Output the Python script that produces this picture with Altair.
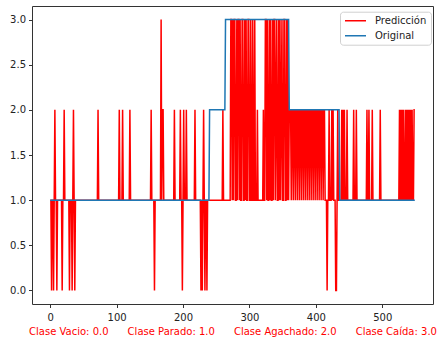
import altair as alt
import pandas as pd

# ---- data ----
n_points = 550
x_ticks = [0, 100, 200, 300, 400, 500]
y_ticks = [0.0, 0.5, 1.0, 1.5, 2.0, 2.5, 3.0]
series_names = ["Predicción", "Original"]
series_colors = ["#ff0000", "#1f77b4"]
class_labels = ["Clase Vacio: 0.0", "Clase Parado: 1.0", "Clase Agachado: 2.0", "Clase Caída: 3.0"]

# Original: index where the class changes, and the new class
orig_change_idx = [0, 240, 264, 360, 436]
orig_change_val = [1, 2, 3, 2, 1]

# Prediction: index where the class changes, and the new class
pred_change_idx = [
    0, 2, 3, 5, 6, 7, 8, 10, 11, 18, 19, 21, 22, 29, 30, 33, 34, 35, 36, 37, 38,
    72, 73, 104, 105, 109, 110, 120, 121, 152, 153, 157, 158, 167, 168, 169, 171,
    187, 188, 196, 197, 199, 200, 201, 202, 205, 206, 218, 219, 227, 228, 229, 230,
    231, 232, 233, 234, 236, 237, 260, 261,
    272, 274, 275, 276, 277, 279, 281, 282, 283, 285, 286, 287, 289, 291, 293, 294,
    295, 296, 298, 300, 302, 303, 305, 306, 308, 309, 312, 313, 321, 322,
    324, 326, 327, 328, 330, 331, 332, 333, 335, 336, 337, 339, 340, 341, 342,
    344, 345, 346, 347, 348, 349, 350, 352, 354, 356, 357, 358, 359,
    360, 363, 364, 366, 367, 369, 370, 372, 373, 375, 376, 378, 379, 381, 382, 384,
    385, 387, 388, 390, 391, 393, 394, 396, 397, 399, 400, 402, 403, 405, 406, 408,
    409, 411, 412, 414, 417, 418, 420, 421, 424, 425, 426, 427, 430, 432, 433, 434,
    439, 440, 441, 442, 443, 444, 447, 448, 457, 458, 461, 462, 477, 478, 480, 481,
    485, 486, 497, 498, 526, 527, 528, 529, 530, 531, 532, 533, 535, 536, 537, 538,
    539, 540, 541, 542, 543, 544, 545, 546, 548,
]
pred_change_val = [
    1, 0, 1, 0, 1, 2, 1, 0, 1, 0, 1, 2, 1, 0, 1, 0, 1, 2, 1, 0, 1,
    2, 1, 2, 1, 2, 1, 2, 1, 2, 1, 0, 1, 3, 1, 2, 1,
    2, 1, 2, 1, 0, 1, 2, 1, 2, 1, 2, 1, 0, 1, 0, 1,
    2, 1, 0, 1, 0, 1, 2, 1,
    3, 1, 3, 1, 3, 1, 3, 1, 3, 1, 3, 1, 3, 1, 3, 1,
    3, 1, 3, 1, 3, 1, 3, 1, 3, 1, 2, 1, 2, 1,
    3, 1, 3, 1, 3, 1, 3, 1, 3, 1, 3, 1, 2, 3, 1,
    3, 1, 3, 1, 2, 3, 1, 3, 1, 3, 1, 3, 1,
    2, 1, 2, 1, 2, 1, 2, 1, 2, 1, 2, 1, 2, 1, 2, 1,
    2, 1, 2, 1, 2, 1, 2, 1, 2, 1, 2, 1, 2, 1, 2, 1,
    2, 1, 2, 1, 0, 1, 2, 1, 2, 1, 2, 1, 0, 1, 2, 1,
    2, 1, 2, 1, 2, 1, 2, 1, 2, 1, 2, 1, 2, 1, 2, 1,
    2, 1, 2, 1, 2, 1, 2, 1, 2, 1, 2, 1, 2, 1, 2, 1,
    2, 1, 2, 1, 2, 1, 2, 1, 2,
]


def expand(change_idx, change_val, n):
    values = []
    for k, start in enumerate(change_idx):
        end = change_idx[k + 1] if k + 1 < len(change_idx) else n
        values.extend([change_val[k]] * (end - start))
    return values


pred_values = expand(pred_change_idx, pred_change_val, n_points)
orig_values = expand(orig_change_idx, orig_change_val, n_points)

pred_df = pd.DataFrame({"x": list(range(n_points)), "y": pred_values, "serie": series_names[0]})
orig_df = pd.DataFrame({"x": list(range(n_points)), "y": orig_values, "serie": series_names[1]})

FONT = "DejaVu Sans"
NB = "\u00a0"
x_title = (NB * 6).join(class_labels)

x_enc = alt.X(
    "x:Q",
    scale=alt.Scale(domain=[-27.45, 576.45], nice=False, zero=False),
    axis=alt.Axis(values=x_ticks, format="d", title=x_title, titleColor="#ff0000",
                  titleFontSize=10, titleFontWeight="normal", titleFont=FONT,
                  titlePadding=4, labelPadding=5),
)
y_enc = alt.Y(
    "y:Q",
    scale=alt.Scale(domain=[-0.15, 3.15], nice=False, zero=False),
    axis=alt.Axis(values=y_ticks, format=".1f", title=None, labelPadding=3),
)
color_enc = alt.Color(
    "serie:N",
    scale=alt.Scale(domain=series_names, range=series_colors),
    legend=alt.Legend(
        title=None, orient="none", legendX=308, legendY=5.7,
        symbolType="stroke", symbolStrokeWidth=1.5, symbolSize=441,
        labelFont=FONT, labelFontSize=10, labelColor="#222", labelOffset=8,
        padding=4, rowPadding=5, clipHeight=10,
        strokeColor="#d0d0d0", fillColor="white", cornerRadius=3,
    ),
)

pred_line = alt.Chart(pred_df).mark_line(strokeWidth=1.5).encode(x=x_enc, y=y_enc, color=color_enc)
orig_line = alt.Chart(orig_df).mark_line(strokeWidth=1.5).encode(x=x_enc, y=y_enc, color=color_enc)

chart = (
    alt.layer(pred_line, orig_line)
    .properties(
        width=401, height=298,
        padding={"left": 32, "top": 6, "right": 5, "bottom": 38},
        autosize=alt.AutoSizeParams(type="none"),
        background="white",
    )
    .configure_view(stroke="#333", strokeWidth=1)
    .configure_axis(
        grid=False, domain=False, tickSize=3.5, tickColor="#333", tickWidth=1,
        labelFont=FONT, labelFontSize=10, labelColor="#222",
    )
)

chart.save("out.html", embed_options={"renderer": "svg", "actions": False})
